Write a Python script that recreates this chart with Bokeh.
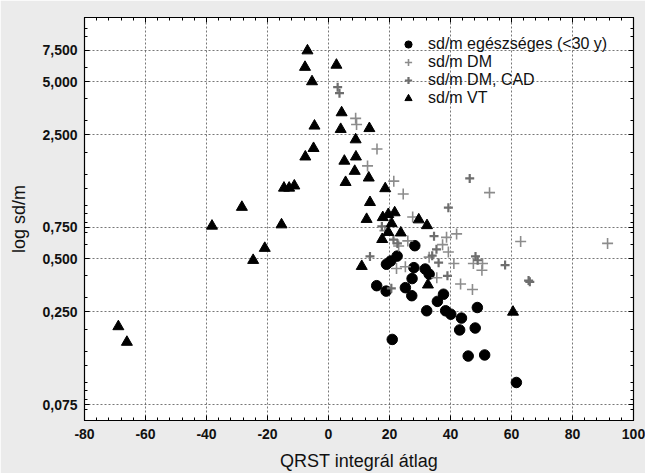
from bokeh.plotting import figure
from bokeh.models import (Range1d, FixedTicker, LinearAxis, LogAxis, Legend, LegendItem,
                          CustomJSTickFormatter)
from bokeh.embed import file_html
from bokeh.resources import INLINE

# ---- data ----
healthy_x = [28.3, 22.5, 20.4, 19.0, 28.0, 31.7, 33.0, 27.4, 15.8, 18.9, 25.2, 27.3, 37.7,
             35.7, 32.2, 38.4, 40.1, 43.6, 48.8, 43.0, 48.1, 20.9, 45.8, 51.2, 61.6]
healthy_y = [0.592, 0.517, 0.485, 0.465, 0.445, 0.437, 0.409, 0.386, 0.352, 0.328, 0.343,
             0.309, 0.315, 0.287, 0.254, 0.254, 0.243, 0.231, 0.265, 0.198, 0.203, 0.175,
             0.141, 0.143, 0.100]

dm_x = [8.9, 9.2, 15.9, 12.8, 21.4, 24.5, 52.8, 27.6, 18.5, 42.0, 38.7, 63.0, 91.5, 26.0,
        23.0, 37.4, 39.3, 33.0, 47.5, 50.5, 50.3, 41.1, 25.2, 22.3, 35.5, 43.3, 47.2]
dm_y = [3.10, 2.86, 2.08, 1.67, 1.37, 1.16, 1.18, 0.86, 0.72, 0.69, 0.66, 0.625, 0.61, 0.63,
        0.59, 0.60, 0.545, 0.51, 0.47, 0.47, 0.43, 0.47, 0.45, 0.44, 0.39, 0.36, 0.335]

cad_x = [3.0, 3.6, 46.3, 39.3, 17.5, 34.6, 21.3, 22.6, 35.4, 34.0, 13.6, 48.2, 48.9, 57.9,
         36.1, 39.0, 20.6, 65.6, 66.0]
cad_y = [4.65, 4.30, 1.42, 0.97, 0.76, 0.67, 0.64, 0.61, 0.565, 0.52, 0.515, 0.515, 0.49,
         0.46, 0.475, 0.40, 0.34, 0.376, 0.37]

vt_x = [-68.9, -66.1, -38.2, -28.4, -24.7, -20.9, -15.4, -14.6, -12.9, -11.2, -7.6, -4.9,
        -4.6, -7.7, -6.9, -5.4, 2.6, 4.3, 4.0, 5.2, 5.6, 8.9, 9.0, 8.6, 13.4, 13.2, 13.6,
        12.5, 10.9, 18.6, 17.8, 19.6, 21.7, 20.7, 19.6, 17.6, 23.7, 29.6, 32.3, 32.6, 60.5]
vt_y = [0.207, 0.169, 0.765, 0.977, 0.49, 0.573, 0.778, 1.254, 1.254, 1.29, 1.88, 2.10,
        2.81, 6.03, 7.47, 5.0, 6.2, 3.34, 2.69, 1.78, 1.35, 2.35, 1.88, 1.56, 2.72, 1.43,
        1.04, 0.835, 0.453, 1.245, 0.855, 0.89, 0.91, 0.79, 0.705, 0.643, 0.70, 0.83,
        0.77, 0.356, 0.25]

x_ticks = [-80, -60, -40, -20, 0, 20, 40, 60, 80, 100]
y_ticks = [0.075, 0.25, 0.5, 0.75, 2.5, 5.0, 7.5]
y_minor = [0.07, 0.08, 0.09, 0.1, 0.125, 0.15, 0.2, 0.3, 0.4, 0.6, 0.7, 0.8, 0.9, 1.0,
           1.25, 1.5, 2.0, 3.0, 4.0, 6.0, 9.0, 10.0]
x_minor = [v for v in range(-80, 101, 4)]

legend_labels = ["sd/m egészséges (<30 y)", "sd/m DM", "sd/m DM, CAD", "sd/m VT"]

FONT = "Liberation Sans"

p = figure(width=645, height=473, output_backend="svg", toolbar_location=None,
           y_axis_type="log", x_range=Range1d(-80, 100), y_range=Range1d(0.061, 11.5),
           min_border_left=84, min_border_right=12, min_border_top=17, min_border_bottom=53)

p.background_fill_color = "white"
p.border_fill_color = "#ebebeb"
p.outline_line_color = "black"
p.outline_line_width = 1.2

xt = FixedTicker(ticks=x_ticks, minor_ticks=x_minor)
yt = FixedTicker(ticks=y_ticks, minor_ticks=y_minor)

p.xaxis.ticker = xt
p.xaxis.formatter = CustomJSTickFormatter(code="return String(Math.round(tick));")
p.yaxis.ticker = yt
p.yaxis.formatter = CustomJSTickFormatter(code="return tick.toFixed(3).replace('.', ',');")

for ax in (p.xaxis[0], p.yaxis[0]):
    ax.major_tick_in = 5
    ax.major_tick_out = 0
    ax.minor_tick_in = 3
    ax.minor_tick_out = 0
    ax.axis_line_color = "black"
    ax.major_tick_line_color = "black"
    ax.minor_tick_line_color = "black"
    ax.major_label_text_font = FONT
    ax.major_label_text_font_size = "14px"
    ax.major_label_text_font_style = "bold"
    ax.major_label_text_color = "#111111"
    ax.axis_label_text_font = FONT
    ax.axis_label_text_font_size = "18px"
    ax.axis_label_text_font_style = "normal"
    ax.axis_label_text_color = "#111111"

p.xaxis.axis_label = "QRST integrál átlag"
p.yaxis.axis_label = "log sd/m"
p.xaxis.major_label_standoff = 8
p.xaxis.axis_label_standoff = 9
p.yaxis.major_label_standoff = 7
p.yaxis.axis_label_standoff = 10

blank = CustomJSTickFormatter(code="return '';")
top = LinearAxis(ticker=xt, formatter=blank, major_tick_in=5, major_tick_out=0,
                 minor_tick_in=3, minor_tick_out=0, major_label_standoff=0,
                 major_label_text_font_size="1px")
right = LogAxis(ticker=yt, formatter=blank, major_tick_in=5, major_tick_out=0,
                minor_tick_in=3, minor_tick_out=0, major_label_standoff=0,
                major_label_text_font_size="1px")
p.add_layout(top, "above")
p.add_layout(right, "right")

for g in (p.xgrid[0], p.ygrid[0]):
    g.grid_line_color = "#555555"
    g.grid_line_dash = "2 2"
    g.grid_line_width = 1
    g.grid_line_alpha = 0.8
p.ygrid.ticker = yt
p.xgrid.ticker = xt

r_h = p.scatter(healthy_x, healthy_y, marker="circle", size=10.5, fill_color="black",
                line_color="black")
r_dm = p.scatter(dm_x, dm_y, marker="cross", size=11, line_color="#8c8c8c", line_width=1.6)
r_cad = p.scatter(cad_x, cad_y, marker="cross", size=9, line_color="#6e6e6e", line_width=2.2)
r_vt = p.scatter(vt_x, vt_y, marker="triangle", size=11, fill_color="black",
                 line_color="black")

legend = Legend(items=[LegendItem(label=legend_labels[0], renderers=[r_h]),
                       LegendItem(label=legend_labels[1], renderers=[r_dm]),
                       LegendItem(label=legend_labels[2], renderers=[r_cad]),
                       LegendItem(label=legend_labels[3], renderers=[r_vt])],
                location=(314, 313))
legend.background_fill_alpha = 0
legend.border_line_alpha = 0
legend.padding = 0
legend.margin = 0
legend.spacing = 0
legend.glyph_height = 18
legend.label_height = 18
legend.glyph_width = 20
legend.label_standoff = 10
legend.label_text_font = FONT
legend.label_text_font_size = "16px"
legend.label_text_color = "#111111"
p.add_layout(legend, "center")

open("out.html", "w").write(file_html(p, INLINE))
